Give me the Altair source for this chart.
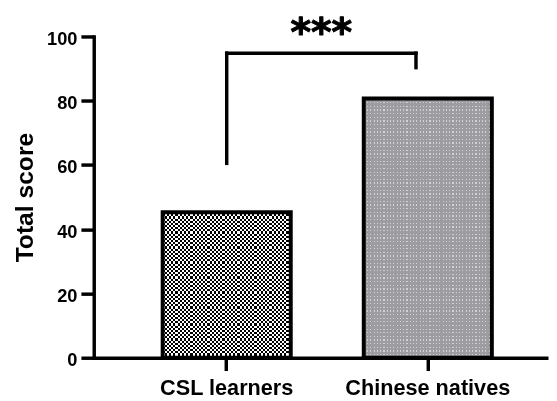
import altair as alt
import pandas as pd

# ---- data ----
groups = ["CSL learners", "Chinese natives"]
scores = [45.3, 80.7]

# significance bracket (in score units)
bracket_left = ["CSL learners"]
bracket_right = ["Chinese natives"]
bracket_top = [94.8]
bracket_left_end = [60.5]
bracket_right_end = [90.3]
sig_label = ["***"]

y_ticks = [0, 20, 40, 60, 80, 100]

df = pd.DataFrame({"group": groups, "score": scores})
br = pd.DataFrame({"left": bracket_left, "right": bracket_right, "top": bracket_top,
                   "lend": bracket_left_end, "rend": bracket_right_end, "label": sig_label})


def stripes(n, c1, c2, frac=0.5, vertical=True):
    stops = []
    for i in range(n):
        a, m, b = i / n, (i + frac) / n, (i + 1) / n
        stops += [{"offset": a, "color": c1}, {"offset": m, "color": c1},
                  {"offset": m, "color": c2}, {"offset": b, "color": c2}]
    g = {"gradient": "linear", "stops": stops, "x1": 0, "y1": 0}
    if vertical:
        g.update({"x2": 1, "y2": 0})
    else:
        g.update({"x2": 0, "y2": 1})
    return g


FONT = "Liberation Sans"

x_enc = alt.X("group:N", sort=groups,
              scale=alt.Scale(paddingInner=0.363, paddingOuter=0.311, align=0.551),
              axis=alt.Axis(title=None, labelAngle=0, labelFont=FONT, labelFontSize=22,
                            labelFontWeight="bold", labelColor="black", labelPadding=7,
                            tickSize=13, tickWidth=3.5, tickColor="black",
                            domainWidth=3.5, domainColor="black"))
y_enc = alt.Y("score:Q", scale=alt.Scale(domain=[0, 100]),
              axis=alt.Axis(title="Total score", values=y_ticks, grid=False,
                            titleFont=FONT, titleFontSize=25, titleFontWeight="bold",
                            titleColor="black", titlePadding=9,
                            labelFont=FONT, labelFontSize=18.5, labelFontWeight="bold",
                            labelColor="black", labelPadding=4, labelOffset=2,
                            tickSize=13, tickWidth=3.5, tickColor="black",
                            domainWidth=3.5, domainColor="black", domainCap="square"))

base = alt.Chart(df).encode(x=x_enc, y=y_enc)

bar1a = base.transform_filter(alt.datum.group == groups[0]).mark_bar(
    fill=stripes(30, "black", "white", vertical=True))
bar1b = base.transform_filter(alt.datum.group == groups[0]).mark_bar(
    fill=stripes(34, "white", "black", vertical=False), blend="difference")
bar2a = base.transform_filter(alt.datum.group == groups[1]).mark_bar(
    fill=stripes(39, "#d2d2d6", "#9d9da1", frac=0.35, vertical=True))
bar2b = base.transform_filter(alt.datum.group == groups[1]).mark_bar(
    fill=stripes(71, "#d2d2d6", "#9d9da1", frac=0.35, vertical=False), blend="darken")
outline = base.mark_bar(fill="white", fillOpacity=0, stroke="black", strokeWidth=4)

left_v = alt.Chart(br).mark_rule(color="black", strokeWidth=3.5, strokeCap="square").encode(
    x=alt.X("left:N", sort=groups), y=alt.Y("top:Q"), y2="lend:Q")
right_v = alt.Chart(br).mark_rule(color="black", strokeWidth=3.5, strokeCap="square",
                                  xOffset=-12).encode(
    x=alt.X("right:N", sort=groups), y=alt.Y("top:Q"), y2="rend:Q")
horiz = alt.Chart(br).mark_rule(color="black", strokeWidth=3.5, strokeCap="square",
                                x2Offset=-12).encode(
    x=alt.X("left:N", sort=groups), x2="right:N", y=alt.Y("top:Q"))
stars = alt.Chart(br).mark_text(font="DejaVu Sans", fontWeight="bold", fontSize=40,
                                color="black", stroke="black", strokeWidth=1,
                                strokeJoin="round",
                                dx=96, dy=-7, baseline="alphabetic",
                                align="center").encode(
    x=alt.X("left:N", sort=groups), y=alt.Y("top:Q"), text="label:N")

chart = alt.layer(bar1a, bar1b, bar2a, bar2b, outline, left_v, right_v, horiz, stars).properties(
    width=461, height=326,
    autosize=alt.AutoSizeParams(type="none"),
    padding={"left": 87, "top": 26, "right": 1, "bottom": 41},
    background="white",
).configure_view(strokeWidth=0)

chart.save("out.html", embed_options={"renderer": "svg", "actions": False})
